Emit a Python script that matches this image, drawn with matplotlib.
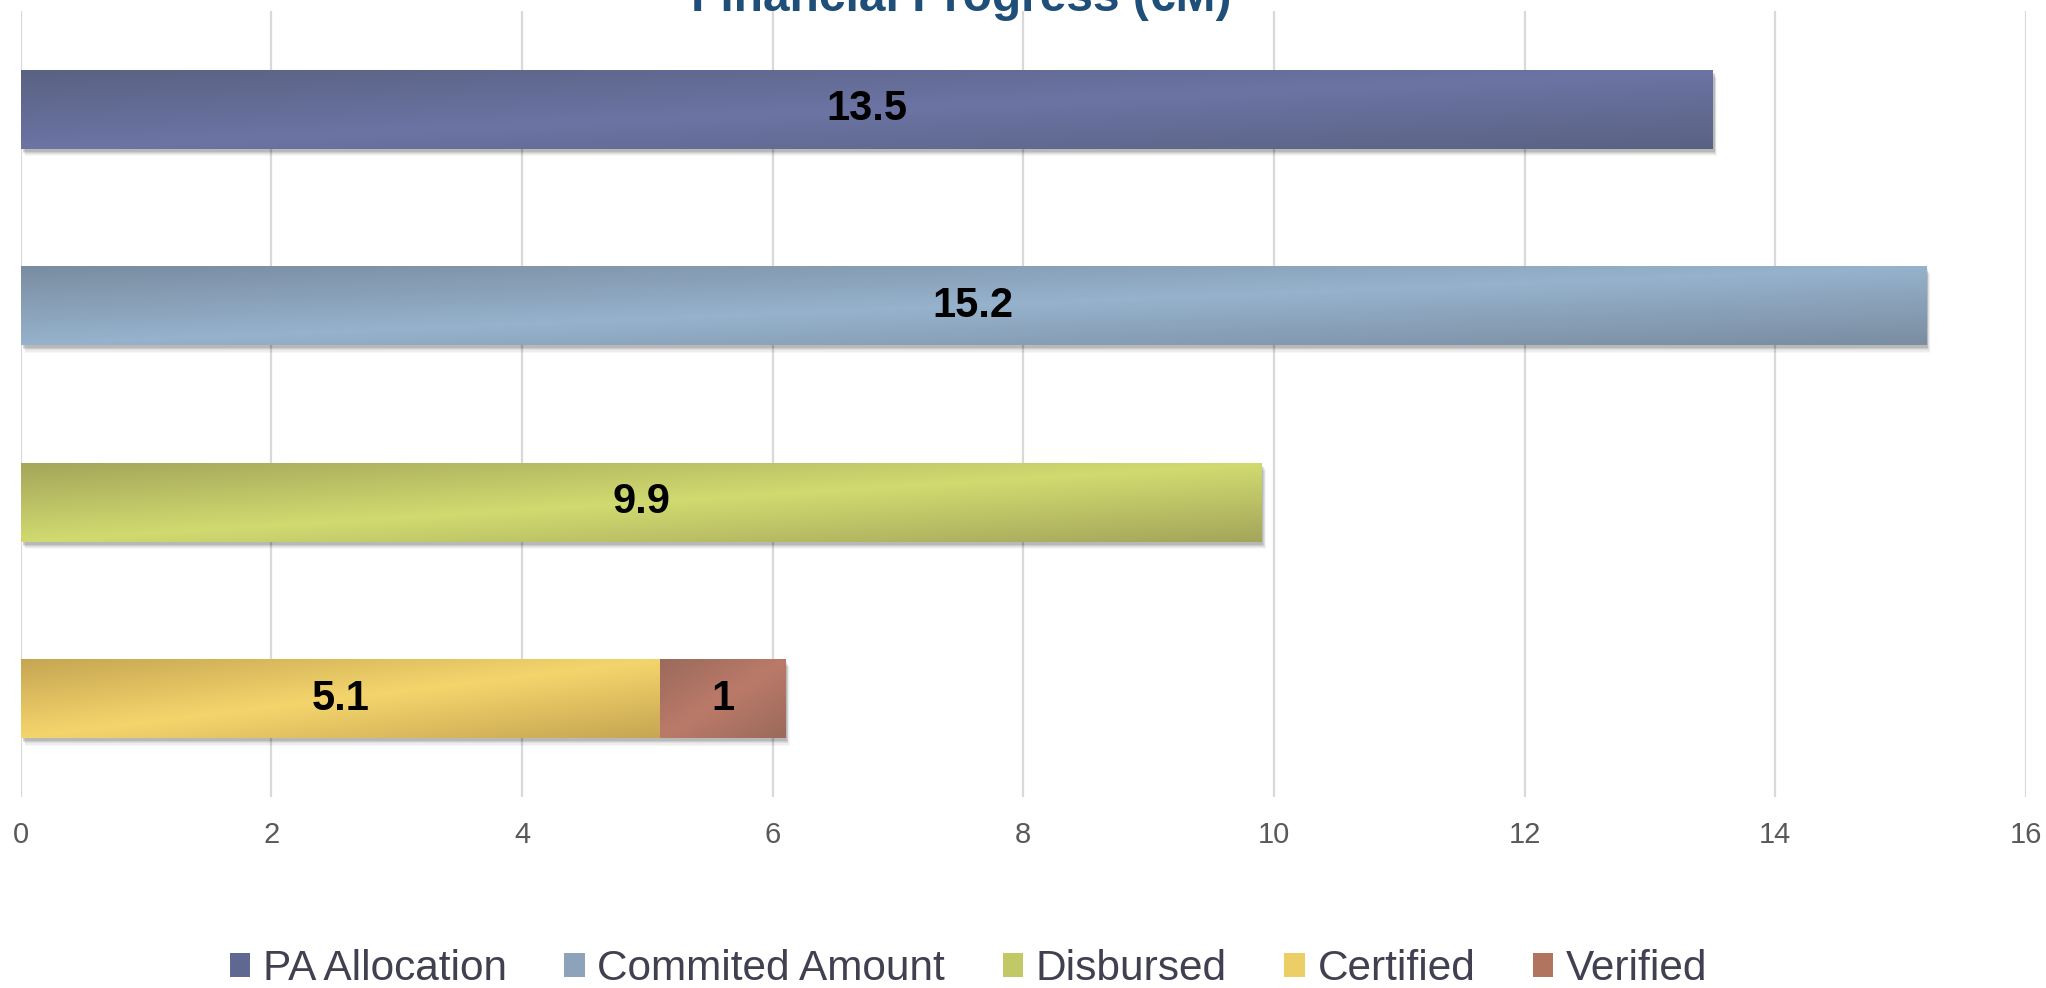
import numpy as np
import matplotlib
matplotlib.use("Agg")
import matplotlib.pyplot as plt
from matplotlib.patches import Rectangle
from matplotlib.colors import to_rgb
import matplotlib.transforms as mtrans

plt.rcParams['font.family'] = ['Liberation Sans', 'DejaVu Sans']

# ---- data ----
title = "Financial Progress (€M)"
series_names = ["PA Allocation", "Commited Amount", "Disbursed", "Certified", "Verified"]
series_values = [13.5, 15.2, 9.9, 5.1, 1.0]
series_rows = [0, 1, 2, 3, 3]
x_ticks = [0, 2, 4, 6, 8, 10, 12, 14, 16]

# gradient colours (dark edge, light centre)
dark_cols = ["#5a6283", "#7a8da1", "#a4a65a", "#c6a652", "#9a6a5b"]
light_cols = ["#6b74a3", "#96b2cc", "#d1da70", "#f4d56c", "#bb7a69"]
legend_cols = ["#5f6890", "#8ca3ba", "#c2c866", "#ecce66", "#b0745f"]

W, H, DPI = 2046, 988, 100
fig = plt.figure(figsize=(W / DPI, H / DPI), dpi=DPI)
ax = fig.add_axes([20.7 / W, 1 - 797 / H, (2026 - 20.7) / W, (797 - 11) / H])

bar_h = 0.40

# gridlines
for t in x_ticks:
    ax.axvline(t, color="#d9d9d9", lw=1.6, zorder=0)

def grad_img(dark, light, n=60, m=300):
    d = np.array(to_rgb(dark)); l = np.array(to_rgb(light))
    u = np.linspace(0, 1, m)[None, :]
    v = np.linspace(0, 1, n)[:, None]
    t = (u + v) / 2.0
    f = 1 - np.abs(2 * t - 1)
    return d[None, None, :] + (l - d)[None, None, :] * f[..., None]

lefts = {}
for name, val, row, dc, lc in zip(series_names, series_values, series_rows, dark_cols, light_cols):
    left = lefts.get(row, 0.0)
    lefts[row] = left + val
    top = row - bar_h / 2
    bot = row + bar_h / 2
    # soft shadow
    for k, a in enumerate([0.10, 0.08, 0.06, 0.04, 0.03]):
        off = mtrans.offset_copy(ax.transData, fig=fig, x=2 + k * 0.6, y=-(3 + k * 1.2), units='dots')
        ax.add_patch(Rectangle((left, top), val, bar_h, transform=off,
                               facecolor="black", edgecolor="none", alpha=a, zorder=1))
    # bar with gradient
    rect = Rectangle((left, top), val, bar_h, facecolor="none", edgecolor="none", zorder=2)
    ax.add_patch(rect)
    im = ax.imshow(grad_img(dc, lc), extent=(left, left + val, bot, top), origin='upper',
                   aspect='auto', interpolation='bilinear', zorder=2)
    im.set_clip_path(rect)
    ax.text(left + val / 2, row, f"{val:g}", ha='center', va='center',
            fontsize=30, fontweight='bold', color='black', zorder=3)

ax.set_xlim(0, 16)
ax.set_ylim(3.5, -0.5)
ax.set_xticks(x_ticks)
ax.set_xticklabels([str(t) for t in x_ticks], fontsize=21, color="#595959")
ax.tick_params(axis='x', length=0, pad=17)
ax.set_yticks([])
for s in ax.spines.values():
    s.set_visible(False)

fig.text(961.5 / W, 1 - 11 / H, title, ha='center', va='baseline',
         fontsize=34.5, fontweight='bold', color="#1f4e79")

handles = [Rectangle((0, 0), 1, 1, facecolor=c, edgecolor='none') for c in legend_cols]
leg = fig.legend(handles, series_names, loc='center', bbox_to_anchor=(968.5 / W, 19 / H),
                 ncol=5, frameon=False, fontsize=30.5, handlelength=0.48, handleheight=0.5,
                 handletextpad=0.3, columnspacing=1.36, borderpad=0, borderaxespad=0)
for t in leg.get_texts():
    t.set_color("#404050")

fig.savefig("out.png", dpi=DPI)
